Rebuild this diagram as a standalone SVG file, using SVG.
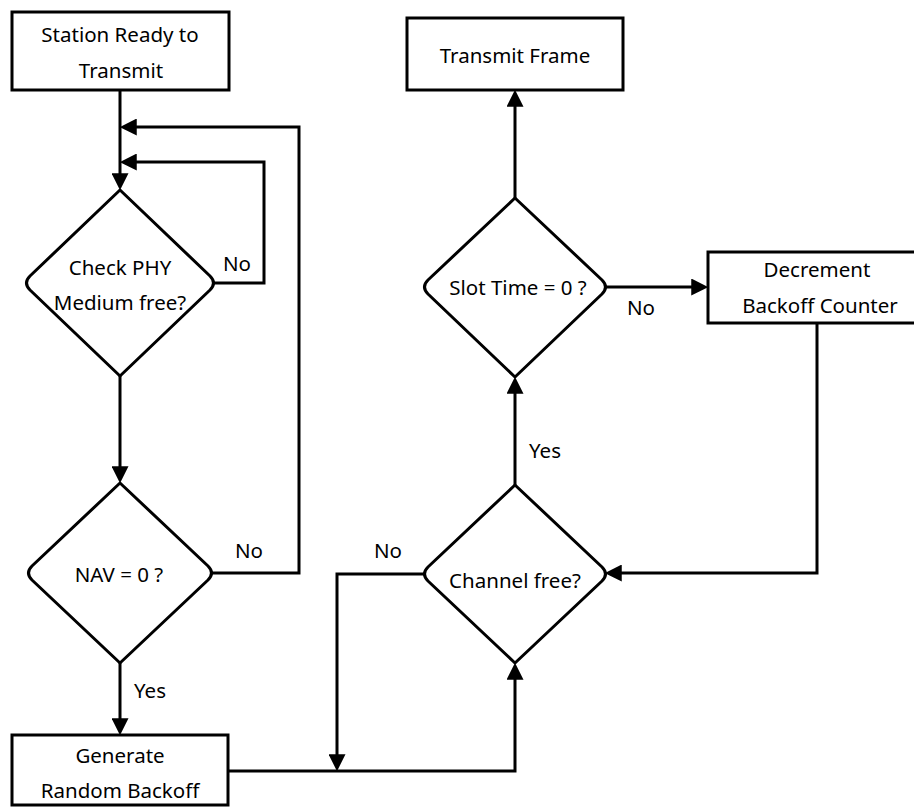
<svg xmlns="http://www.w3.org/2000/svg" width="914" height="807" viewBox="0 0 914 807">
  <style>
    .box { fill: #ffffff; stroke: #000000; stroke-width: 3; }
    .dec { fill: #ffffff; stroke: #000000; stroke-width: 3; stroke-linejoin: round; }
    .wire { fill: none; stroke: #000000; stroke-width: 3; stroke-linejoin: miter; }
    .arrow { marker-end: url(#head); }
    text { font-family: "Noto Sans", "Open Sans", sans-serif; font-size: 20.5px; fill: #000000; text-anchor: middle; }
    .lbl { text-anchor: start; }
  </style>
  <defs>
    <marker id="head" markerUnits="userSpaceOnUse" markerWidth="17" markerHeight="17" refX="12" refY="8" orient="auto" viewBox="0 0 16 16">
      <path d="M0,0 L16,8 L0,16 z" fill="#000000"/>
    </marker>
  </defs>

  <!-- connectors -->
  <g id="connectors">
    <path class="wire arrow" d="M120,90 V186"/>
    <path class="wire arrow" d="M214,283 H264 V162 H124"/>
    <path class="wire arrow" d="M120,376 V479"/>
    <path class="wire arrow" d="M212,573 H299 V127 H124"/>
    <path class="wire arrow" d="M120,663 V731"/>
    <path class="wire arrow" d="M228,771 H515 V667"/>
    <path class="wire arrow" d="M424,574 H337 V767"/>
    <path class="wire arrow" d="M515,485 V381"/>
    <path class="wire arrow" d="M515,198 V94"/>
    <path class="wire arrow" d="M606,287 H704"/>
    <path class="wire arrow" d="M817,323 V573 H609"/>
  </g>

  <!-- edge labels -->
  <g id="labels">
    <text class="lbl" x="223" y="271">No</text>
    <text class="lbl" x="235" y="558">No</text>
    <text class="lbl" x="134" y="698">Yes</text>
    <text class="lbl" x="374" y="558">No</text>
    <text class="lbl" x="529" y="458">Yes</text>
    <text class="lbl" x="627" y="315">No</text>
  </g>

  <g id="station-ready">
    <rect class="box" x="12" y="12" width="217" height="78"/>
    <text x="120" y="42">Station Ready to</text>
    <text x="121" y="78">Transmit</text>
  </g>

  <g id="check-phy">
    <path class="dec" d="M120,190 L210,276 Q217,283 210,290 L120,376 L30,290 Q23,283 30,276 Z"/>
    <text x="120" y="275">Check PHY</text>
    <text x="120" y="310">Medium free?</text>
  </g>

  <g id="nav-check">
    <path class="dec" d="M120,483 L208,566 Q215,573 208,580 L120,663 L32,580 Q25,573 32,566 Z"/>
    <text x="119" y="582">NAV = 0 ?</text>
  </g>

  <g id="random-backoff">
    <rect class="box" x="12" y="735" width="216" height="70"/>
    <text x="120" y="763">Generate</text>
    <text x="120" y="798">Random Backoff</text>
  </g>

  <g id="channel-free">
    <path class="dec" d="M515,485 L602,567 Q609,574 602,581 L515,663 L428,581 Q421,574 428,567 Z"/>
    <text x="515" y="588">Channel free?</text>
  </g>

  <g id="slot-time">
    <path class="dec" d="M515,198 L602,280 Q609,287 602,294 L515,377 L428,294 Q421,287 428,280 Z"/>
    <text x="518" y="295">Slot Time = 0 ?</text>
  </g>

  <g id="transmit-frame">
    <rect class="box" x="407" y="18" width="216" height="72"/>
    <text x="515" y="63">Transmit Frame</text>
  </g>

  <g id="decrement-backoff">
    <rect class="box" x="708" y="252" width="218" height="71"/>
    <text x="817" y="277">Decrement</text>
    <text x="820" y="313">Backoff Counter</text>
  </g>
</svg>
